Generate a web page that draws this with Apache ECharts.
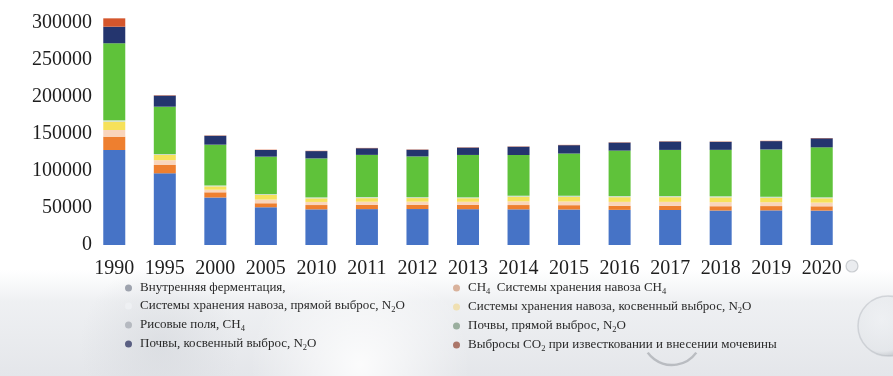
<!DOCTYPE html>
<html>
<head>
<meta charset="utf-8">
<script src="https://cdn.jsdelivr.net/npm/echarts@6/dist/echarts.min.js"></script>
<style>
  html, body { margin: 0; padding: 0; background: #ffffff; }
  #chart { width: 893px; height: 376px; }
</style>
</head>
<body>
<div id="chart"></div>
<script>
// Agricultural GHG emissions by source, kt CO2-eq
const years = ['1990','1995','2000','2005','2010','2011','2012','2013','2014','2015','2016','2017','2018','2019','2020'];

const entericFermentation = [128400, 96900, 64200, 51000, 48200, 48500, 48600, 48400, 48200, 48000, 47500, 47300, 46600, 46800, 46500];
const manureCH4           = [18000, 11200, 7000, 5400, 5800, 5800, 5800, 5800, 5800, 5800, 5400, 5600, 5800, 5800, 5800];
const manureN2ODirect     = [9000, 6500, 3500, 5000, 4200, 4200, 4200, 4200, 5000, 5000, 5400, 5400, 5500, 5200, 5000];
const manureN2OIndirect   = [11200, 7000, 4500, 6200, 4800, 4800, 4800, 4800, 6200, 6200, 6300, 6300, 6400, 6000, 5800];
const riceCH4             = [2000, 1500, 1300, 1300, 1400, 1400, 1400, 1400, 1400, 1400, 1500, 1500, 1500, 1500, 1500];
const soilsN2ODirect      = [104000, 63800, 55100, 50500, 52600, 57100, 54900, 57100, 55000, 57200, 61500, 62400, 62800, 63800, 67400];
const soilsN2OIndirect    = [22400, 15000, 12000, 9000, 9900, 9000, 9000, 9900, 11200, 11300, 10800, 11300, 10800, 11300, 12200];
const limingUreaCO2       = [11300, 500, 400, 400, 400, 400, 400, 400, 400, 400, 400, 400, 400, 400, 400];

const yTicks = [0, 50000, 100000, 150000, 200000, 250000, 300000];

const names = {
  ent: 'Внутренняя ферментация,',
  mch4: 'CH4  Системы хранения навоза CH4',
  mdir: 'Системы хранения навоза, прямой выброс, N2O',
  mind: 'Системы хранения навоза, косвенный выброс, N2O',
  rice: 'Рисовые поля, CH4',
  sdir: 'Почвы, прямой выброс, N2O',
  sind: 'Почвы, косвенный выброс, N2O',
  co2: 'Выбросы CO2 при известковании и внесении мочевины'
};

// legend labels with chemical subscripts
const legendRich = {
  [names.ent]: 'Внутренняя ферментация,',
  [names.mch4]: 'CH{s|4}  Системы хранения навоза CH{s|4}',
  [names.mdir]: 'Системы хранения навоза, прямой выброс, N{s|2}O',
  [names.mind]: 'Системы хранения навоза, косвенный выброс, N{s|2}O',
  [names.rice]: 'Рисовые поля, CH{s|4}',
  [names.sdir]: 'Почвы, прямой выброс, N{s|2}O',
  [names.sind]: 'Почвы, косвенный выброс, N{s|2}O',
  [names.co2]: 'Выбросы CO{s|2} при известковании и внесении мочевины'
};

const seriesDefs = [
  { name: names.ent,  data: entericFermentation, color: '#4673c6', icon: '#9ea3ae' },
  { name: names.mch4, data: manureCH4,           color: '#ee7f2f', icon: '#d9b29c' },
  { name: names.mdir, data: manureN2ODirect,     color: '#f9d5bb', icon: '#eef0f3' },
  { name: names.mind, data: manureN2OIndirect,   color: '#f6e15a', icon: '#f0e0b2' },
  { name: names.rice, data: riceCH4,             color: '#c9dcc4', icon: '#b5b9c0' },
  { name: names.sdir, data: soilsN2ODirect,      color: '#5fc23a', icon: '#9aae9e' },
  { name: names.sind, data: soilsN2OIndirect,    color: '#24356e', icon: '#5a5f82' },
  { name: names.co2,  data: limingUreaCO2,       color: '#d4562c', icon: '#ab7669' }
];

const series = seriesDefs.map(d => ({
  name: d.name,
  type: 'bar',
  stack: 'total',
  barWidth: 22,
  clip: false,
  itemStyle: { color: d.color },
  emphasis: { disabled: true },
  data: d.data
}));

const leftNames = [names.ent, names.mdir, names.rice, names.sind];
const rightNames = [names.mch4, names.mind, names.sdir, names.co2];
const iconOf = n => seriesDefs.find(d => d.name === n).icon;

const legendText = {
  fontFamily: 'Liberation Serif',
  fontSize: 13,
  color: '#2a2a2a',
  lineHeight: 14,
  padding: [0, 0, 0, 3],
  rich: {
    s: { fontSize: 8.5, fontFamily: 'Liberation Serif', color: '#2a2a2a', padding: [7, 0, 0, 0] }
  }
};

function makeLegend(list, left) {
  return {
    orient: 'vertical',
    left: left,
    top: 276,
    itemWidth: 7,
    itemHeight: 7,
    itemGap: 4,
    icon: 'circle',
    selectedMode: false,
    textStyle: legendText,
    formatter: n => legendRich[n],
    data: list.map(n => ({ name: n, itemStyle: { color: iconOf(n) } }))
  };
}

const chart = echarts.init(document.getElementById('chart'), null, { renderer: 'canvas' });

chart.setOption({
  animation: false,
  backgroundColor: '#ffffff',
  graphic: [
    // soft grey haze behind the legend
    { type: 'rect', z: -10, silent: true,
      shape: { x: 0, y: 270, width: 893, height: 106 },
      style: { fill: new echarts.graphic.LinearGradient(0, 0, 0, 1, [
        { offset: 0, color: 'rgba(236,238,241,0)' },
        { offset: 0.3, color: 'rgba(234,236,239,0.8)' },
        { offset: 1, color: 'rgba(228,230,234,1)' }
      ]) } },
    { type: 'circle', z: -9, silent: true,
      shape: { cx: 360, cy: 365, r: 110 },
      style: { fill: new echarts.graphic.RadialGradient(0.5, 0.5, 0.5, [
        { offset: 0, color: 'rgba(255,255,255,0.85)' },
        { offset: 1, color: 'rgba(255,255,255,0)' }
      ]) } },
    { type: 'circle', z: -9, silent: true,
      shape: { cx: 160, cy: 345, r: 80 },
      style: { fill: new echarts.graphic.RadialGradient(0.5, 0.5, 0.5, [
        { offset: 0, color: 'rgba(210,213,218,0.55)' },
        { offset: 1, color: 'rgba(210,213,218,0)' }
      ]) } },
    // water droplets at the right edge
    { type: 'circle', z: -8, silent: true,
      shape: { cx: 888, cy: 326, r: 30 },
      style: { fill: new echarts.graphic.RadialGradient(0.4, 0.4, 0.6, [
        { offset: 0, color: 'rgba(240,242,245,0.5)' },
        { offset: 0.85, color: 'rgba(225,228,232,0.5)' },
        { offset: 1, color: 'rgba(180,184,190,0.55)' }
      ]), stroke: 'rgba(175,180,186,0.45)', lineWidth: 1.5 } },
    { type: 'circle', z: -8, silent: true,
      shape: { cx: 852, cy: 266, r: 6 },
      style: { fill: 'rgba(225,228,232,0.7)', stroke: 'rgba(160,165,172,0.5)', lineWidth: 1.2 } },
    { type: 'arc', z: -8, silent: true,
      shape: { cx: 672, cy: 335, r: 30, startAngle: Math.PI * 0.2, endAngle: Math.PI * 0.8 },
      style: { stroke: 'rgba(130,135,142,0.45)', lineWidth: 2.5, fill: 'none' } }
  ],
  grid: { left: 89, right: 46, top: 23, bottom: 131, containLabel: false },
  legend: [makeLegend(leftNames, 120), makeLegend(rightNames, 448)],
  xAxis: {
    type: 'category',
    data: years,
    axisLine: { show: false },
    axisTick: { show: false },
    axisLabel: { fontFamily: 'Liberation Serif', fontSize: 20, color: '#1e1e1e', margin: 14, interval: 0 }
  },
  yAxis: {
    type: 'value',
    min: yTicks[0],
    max: yTicks[yTicks.length - 1],
    interval: yTicks[1] - yTicks[0],
    splitLine: { show: false },
    axisLine: { show: false },
    axisTick: { show: false },
    axisLabel: {
      fontFamily: 'Liberation Serif', fontSize: 20, color: '#1e1e1e', margin: -3,
      verticalAlign: 'middle', formatter: v => String(v)
    }
  },
  series: series
});
</script>
</body>
</html>
